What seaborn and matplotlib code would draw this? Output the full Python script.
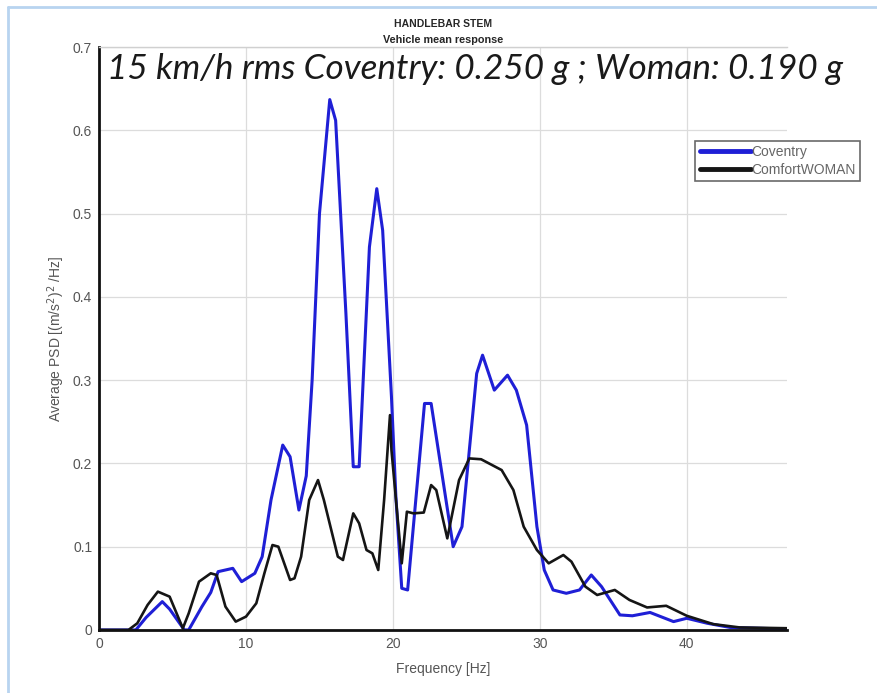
import pandas as pd
import matplotlib
matplotlib.use('Agg')
import matplotlib.pyplot as plt
import seaborn as sns
from matplotlib.lines import Line2D

# Coventry (blue) - frequency [Hz] and PSD values
cov_freq = [0, 2.5, 3.2, 4.3, 4.8, 5.8, 6.1, 7.0, 7.6, 8.1, 9.1, 9.7, 10.6, 11.1,
            11.7, 12.5, 13.0, 13.6, 14.1, 14.5, 15.0, 15.7, 16.1, 16.8, 17.3, 17.7,
            18.4, 18.9, 19.3, 19.9, 20.2, 20.6, 21.0, 22.15, 22.6, 24.1, 24.7, 25.7,
            26.1, 26.9, 27.8, 28.4, 29.1, 29.8, 30.3, 30.9, 31.8, 32.7, 33.5, 34.2,
            35.45, 36.3, 37.5, 39.1, 40.0, 41.4, 42.95, 47]
cov_psd = [0, 0, 0.015, 0.034, 0.025, 0, 0, 0.028, 0.045, 0.07, 0.074, 0.058, 0.068, 0.088,
           0.156, 0.222, 0.208, 0.144, 0.185, 0.30, 0.50, 0.637, 0.612, 0.38, 0.196, 0.196,
           0.46, 0.53, 0.48, 0.28, 0.16, 0.05, 0.048, 0.272, 0.272, 0.10, 0.124, 0.308,
           0.33, 0.288, 0.306, 0.288, 0.246, 0.124, 0.072, 0.048, 0.044, 0.048, 0.066, 0.052,
           0.018, 0.017, 0.021, 0.010, 0.014, 0.008, 0.003, 0.001]

# ComfortWOMAN (black)
wom_freq = [0, 2.0, 2.6, 3.3, 4.0, 4.8, 5.7, 6.1, 6.8, 7.6, 8.0, 8.6, 9.3, 10.0, 10.7,
            11.25, 11.8, 12.2, 13.0, 13.3, 13.75, 14.3, 14.9, 15.3, 16.25, 16.6, 17.3,
            17.7, 18.2, 18.6, 19.0, 19.4, 19.8, 19.9, 20.6, 20.95, 21.4, 22.1, 22.6, 22.95,
            23.7, 24.5, 25.2, 26.0, 27.4, 28.2, 28.9, 29.8, 30.6, 31.6, 32.15, 33.1, 33.9,
            35.1, 36.1, 37.3, 38.6, 40.0, 41.8, 43.6, 47]
wom_psd = [0, 0, 0.008, 0.03, 0.046, 0.04, 0.002, 0.02, 0.058, 0.068, 0.066, 0.028, 0.01, 0.016, 0.032,
           0.068, 0.102, 0.1, 0.06, 0.062, 0.088, 0.156, 0.18, 0.156, 0.088, 0.084, 0.14,
           0.128, 0.096, 0.092, 0.072, 0.156, 0.258, 0.216, 0.08, 0.142, 0.14, 0.141, 0.174, 0.168,
           0.11, 0.18, 0.206, 0.205, 0.192, 0.168, 0.124, 0.096, 0.08, 0.09, 0.082, 0.052, 0.042,
           0.048, 0.036, 0.027, 0.029, 0.017, 0.007, 0.003, 0.002]

series_names = ['Coventry', 'ComfortWOMAN']
series_colors = ['#1f1fd6', '#151515']
x_ticks = [0, 10, 20, 30, 40]
y_ticks = [0, 0.1, 0.2, 0.3, 0.4, 0.5, 0.6, 0.7]
y_tick_labels = ['0', '0.1', '0.2', '0.3', '0.4', '0.5', '0.6', '0.7']

df = pd.concat([
    pd.DataFrame({'freq': cov_freq, 'psd': cov_psd, 'series': series_names[0]}),
    pd.DataFrame({'freq': wom_freq, 'psd': wom_psd, 'series': series_names[1]}),
])

sns.set_style('white')
plt.rcParams['font.family'] = ['Liberation Sans', 'DejaVu Sans']

fig = plt.figure(figsize=(8.77, 6.93), dpi=100)
ax = fig.add_axes([0.113, 0.091, 0.784, 0.841])

sns.lineplot(data=df[df['series'] == series_names[0]], x='freq', y='psd',
             color=series_colors[0], linewidth=2.2, sort=False, estimator=None, ax=ax)
sns.lineplot(data=df[df['series'] == series_names[1]], x='freq', y='psd',
             color=series_colors[1], linewidth=1.9, sort=False, estimator=None, ax=ax)

ax.set_xlim(0, 46.8)
ax.set_ylim(0, 0.7)
ax.set_xticks(x_ticks)
ax.set_yticks(y_ticks)
ax.set_yticklabels(y_tick_labels)
ax.grid(True, color='#dcdcdc', linewidth=0.9)
ax.tick_params(axis='both', direction='in', colors='black', labelcolor='#555555', labelsize=10, width=2)
ax.tick_params(axis='y', length=14, pad=5)
ax.tick_params(axis='x', length=9, pad=5)

for side in ['left', 'bottom']:
    ax.spines[side].set_color('#111111')
    ax.spines[side].set_linewidth(2)
ax.spines['top'].set_color('#d0d0d0')
ax.spines['top'].set_linewidth(1)
ax.spines['right'].set_visible(False)

ax.set_xlabel('Frequency [Hz]', color='#555555', fontsize=10, labelpad=8)
ax.set_ylabel('Average PSD [(m/s$^2$)$^2$ /Hz]', color='#555555', fontsize=10, labelpad=4)

fig.text(0.505, 0.965, 'HANDLEBAR STEM', ha='center', va='center', fontsize=7.5, fontweight='bold')
fig.text(0.505, 0.943, 'Vehicle mean response', ha='center', va='center', fontsize=7.8, fontweight='bold')
fig.text(0.122, 0.900, '15 km/h rms Coventry: 0.250 g ; Woman: 0.190 g', ha='left', va='center',
         fontsize=25.3, fontstyle='italic', color='#1a1a1a', family=['Lato', 'DejaVu Sans'])

handles = [Line2D([], [], color=c, linewidth=3.5) for c in series_colors]
leg = fig.legend(handles, series_names, loc='upper left', bbox_to_anchor=(0.793, 0.797),
                 fontsize=10, frameon=True, fancybox=False, handlelength=3.7,
                 handletextpad=0.05, borderpad=0.3, labelspacing=0.3, borderaxespad=0)
leg.get_frame().set_edgecolor('#444444')
leg.get_frame().set_linewidth(1.2)
for t in leg.get_texts():
    t.set_color('#666666')

# light blue frame at top and left of the screenshot
fig.add_artist(Line2D([0.009, 1.0], [0.99, 0.99], color='#b8d4f0', linewidth=2, transform=fig.transFigure))
fig.add_artist(Line2D([0.009, 0.009], [0.0, 0.99], color='#b8d4f0', linewidth=2, transform=fig.transFigure))

fig.savefig('out.png', dpi=100)
